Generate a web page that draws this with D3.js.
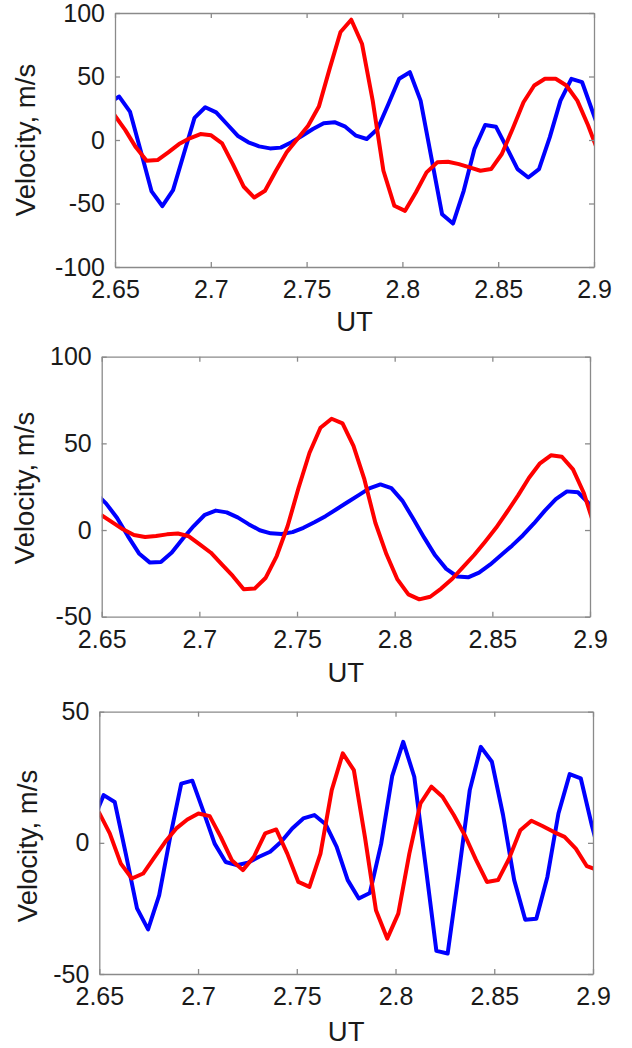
<!DOCTYPE html>
<html>
<head>
<meta charset="utf-8">
<script src="https://cdn.jsdelivr.net/npm/d3@7"></script>
<style>
  body { margin: 0; background: #fff; }
  svg { display: block; font-family: "Liberation Sans", Arial, sans-serif; }
</style>
</head>
<body>
<div id="chart"></div>
<script>
// sample times (UT hours) of the blue and red traces
let utBlue = [2.6466, 2.6522, 2.6578, 2.6634, 2.6691, 2.6747, 2.6803, 2.6859, 2.6915, 2.6971,
    2.7028, 2.7084, 2.7140, 2.7196, 2.7252, 2.7309, 2.7365, 2.7421, 2.7477, 2.7533,
    2.7589, 2.7646, 2.7702, 2.7758, 2.7814, 2.7870, 2.7927, 2.7983, 2.8039, 2.8095,
    2.8151, 2.8207, 2.8264, 2.8320, 2.8376, 2.8432, 2.8488, 2.8544, 2.8601, 2.8657,
    2.8713, 2.8769, 2.8825, 2.8882, 2.8938, 2.8994, 2.9050];
let utRed = [2.6497, 2.6553, 2.6609, 2.6665, 2.6722, 2.6778, 2.6834, 2.6890, 2.6946, 2.7002,
    2.7059, 2.7115, 2.7171, 2.7227, 2.7283, 2.7340, 2.7396, 2.7452, 2.7508, 2.7564,
    2.7620, 2.7677, 2.7733, 2.7789, 2.7845, 2.7901, 2.7958, 2.8014, 2.8070, 2.8126,
    2.8182, 2.8238, 2.8295, 2.8351, 2.8407, 2.8463, 2.8519, 2.8575, 2.8632, 2.8688,
    2.8744, 2.8800, 2.8856, 2.8913, 2.8969, 2.9025];

// velocities, m/s
let blue1 = [29, 34.2, 22.4, -8.4, -40.5, -52, -39.5, -11, 17.4, 25.8, 21.8, 12.6, 3.4, -1.8, -5, -6.6,
    -6, -1.8, 3.4, 8.7, 13.2, 14, 10.5, 3.4, 0.8, 8.7, 28.4, 48.2, 53.4, 31, -13.7, -58.4, -65.8,
    -40, -7.1, 11.8, 10.5, -5.8, -22.9, -29.5, -22.9, 2.1, 31, 48.2, 45.5, 21.8, -1.8];
let red1 = [19.7, 8, -5.8, -16.3, -15.8, -9.7, -3.2, 1.3, 4.7, 3.7, -2.6, -19, -36.6, -45.3, -40, -24.2,
    -9.7, 0.8, 11.3, 26.3, 56, 85, 94.7, 75.8, 31, -24.2, -51.8, -55.8, -41.3, -25.5, -17.6, -17.1,
    -19, -21.6, -24.2, -22.9, -11, 8.7, 29.7, 42.9, 48.2, 48.2, 42.9, 31, 11.6, -10.5];
let blue2 = [21.5, 15.4, 7.1, -3.5, -13.5, -18.8, -18.5, -13, -5, 2.3, 8.8, 11.2, 10.2, 7.3, 3.4, -0.1,
    -1.9, -2.3, -1.2, 1.3, 4.5, 8, 12, 16, 20, 24, 26.3, 24.2, 17, 6.5, -4.4, -14.6, -22.4,
    -26.8, -27.3, -24.6, -20, -14.6, -9, -3, 3.8, 11.2, 17.8, 22.3, 21.8, 15.4, 4.2];
let red2 = [8.7, 4.6, 0.4, -2.9, -4, -3.5, -2.5, -2, -3.6, -8.3, -13.1, -19.8, -26.5, -34.2, -33.8,
    -27.5, -15, 2.3, 24.4, 44.6, 59, 64.2, 61.5, 48.5, 29.2, 4.2, -14, -28.5, -37.1, -40, -38.5,
    -33.8, -28.1, -21.3, -14.4, -6.7, 1.3, 10.4, 20, 30.2, 38.5, 43.1, 42.3, 35, 21.2, 1.3];
let blue3 = [8, 18.2, 15.6, -4.1, -25, -33, -20, 2.3, 22.6, 23.7, 11.8, -0.3, -7.3, -8.5, -7.6, -5.3,
    -3.4, 0.4, 5.5, 9.3, 10.6, 7.1, -1.5, -14.2, -21.2, -19.1, -0.5, 25.4, 38.5, 25.2, -7.9, -41.2,
    -42.2, -11.7, 20.1, 36.6, 30.9, 10.8, -14.2, -29.3, -28.9, -13, 11.2, 26.2, 24.6, 6.7, -9.2];
let red3 = [11.8, 3.6, -7.9, -13.6, -11.7, -5.6, 0.4, 5.5, 8.9, 11.2, 10.2, 2.3, -6.6, -10.4, -5.3,
    3.6, 5.1, -4.1, -14.9, -16.8, -4.1, 20.1, 34.1, 27.7, 2.3, -25.7, -36.5, -27, -4.1, 15, 21.4,
    17.6, 10.6, 2.9, -6.4, -14.9, -14.2, -6, 4.8, 8.4, 6.4, 4.2, 2.3, -2.2, -8.9, -10.4];

// axis ticks
let xTicks = [2.65, 2.7, 2.75, 2.8, 2.85, 2.9];
let xTickLabels = ["2.65", "2.7", "2.75", "2.8", "2.85", "2.9"];
let yTicks1 = [-100, -50, 0, 50, 100];
let yTicks2 = [-50, 0, 50, 100];
let yTicks3 = [-50, 0, 50];
let xLabel = "UT";
let yLabel = "Velocity, m/s";

let svgWidth = 632;
let svgHeight = 1048;

let svg = d3.select("#chart")
    .append("svg")
    .attr("width", svgWidth)
    .attr("height", svgHeight);

// panel boxes and label spots, in page pixels
let panels = [
    { left: 115, right: 594, top: 13, bottom: 267, yTicks: yTicks1, blue: blue1, red: red1,
      yLabelX: 35, yLabelY: 140, xLabelY: 331 },
    { left: 101.7, right: 590, top: 356.7, bottom: 616.7, yTicks: yTicks2, blue: blue2, red: red2,
      yLabelX: 33.5, yLabelY: 488, xLabelY: 682 },
    { left: 99.3, right: 593, top: 711.7, bottom: 974, yTicks: yTicks3, blue: blue3, red: red3,
      yLabelX: 37, yLabelY: 846, xLabelY: 1041 }
];

let frameColor = "#8a8a8a";
let textColor = "#1a1a1a";

panels.forEach(function (p, i) {
    let w = p.right - p.left;
    let h = p.bottom - p.top;

    let xScale = d3.scaleLinear()
        .domain([xTicks[0], xTicks[xTicks.length - 1]])
        .range([0, w]);
    let yScale = d3.scaleLinear()
        .domain([p.yTicks[0], p.yTicks[p.yTicks.length - 1]])
        .range([h, 0]);

    let g = svg.append("g")
        .attr("transform", `translate(${p.left}, ${p.top})`);

    g.append("clipPath")
        .attr("id", "clip" + i)
        .append("rect")
        .attr("width", w)
        .attr("height", h);

    let line = d3.line()
        .x(d => xScale(d[0]))
        .y(d => yScale(d[1]));

    let lines = g.append("g").attr("clip-path", `url(#clip${i})`);

    lines.append("path")
        .datum(d3.zip(utBlue, p.blue))
        .attr("d", line)
        .attr("fill", "none")
        .attr("stroke", "#0000ff")
        .attr("stroke-width", 4)
        .attr("stroke-linejoin", "round");

    lines.append("path")
        .datum(d3.zip(utRed, p.red))
        .attr("d", line)
        .attr("fill", "none")
        .attr("stroke", "#ff0000")
        .attr("stroke-width", 4)
        .attr("stroke-linejoin", "round");

    // axes with inward ticks, matlab style box
    let bottomAxis = d3.axisBottom(xScale)
        .tickValues(xTicks)
        .tickFormat((d, k) => xTickLabels[k])
        .tickSizeInner(-5)
        .tickSizeOuter(0)
        .tickPadding(13.5);
    let leftAxis = d3.axisLeft(yScale)
        .tickValues(p.yTicks)
        .tickFormat(d => String(d))
        .tickSizeInner(-5)
        .tickSizeOuter(0)
        .tickPadding(10);
    let topAxis = d3.axisTop(xScale)
        .tickValues(xTicks)
        .tickFormat("")
        .tickSizeInner(-5)
        .tickSizeOuter(0);
    let rightAxis = d3.axisRight(yScale)
        .tickValues(p.yTicks)
        .tickFormat("")
        .tickSizeInner(-5)
        .tickSizeOuter(0);

    let axes = [
        g.append("g").attr("transform", `translate(0, ${h})`).call(bottomAxis),
        g.append("g").call(leftAxis),
        g.append("g").call(topAxis),
        g.append("g").attr("transform", `translate(${w}, 0)`).call(rightAxis)
    ];

    axes.forEach(function (a) {
        a.selectAll("path, line")
            .attr("stroke", frameColor)
            .attr("stroke-width", 1.3);
        a.selectAll("text")
            .attr("fill", textColor)
            .attr("font-size", "25px")
            .attr("font-family", "'Liberation Sans', Arial, sans-serif");
    });

    // axis titles
    svg.append("text")
        .attr("x", (p.left + p.right) / 2)
        .attr("y", p.xLabelY)
        .attr("text-anchor", "middle")
        .attr("font-size", "27.5px")
        .attr("fill", textColor)
        .text(xLabel);

    svg.append("text")
        .attr("transform", `translate(${p.yLabelX}, ${p.yLabelY}) rotate(-90)`)
        .attr("text-anchor", "middle")
        .attr("font-size", "27.5px")
        .attr("fill", textColor)
        .text(yLabel);
});
</script>
</body>
</html>
